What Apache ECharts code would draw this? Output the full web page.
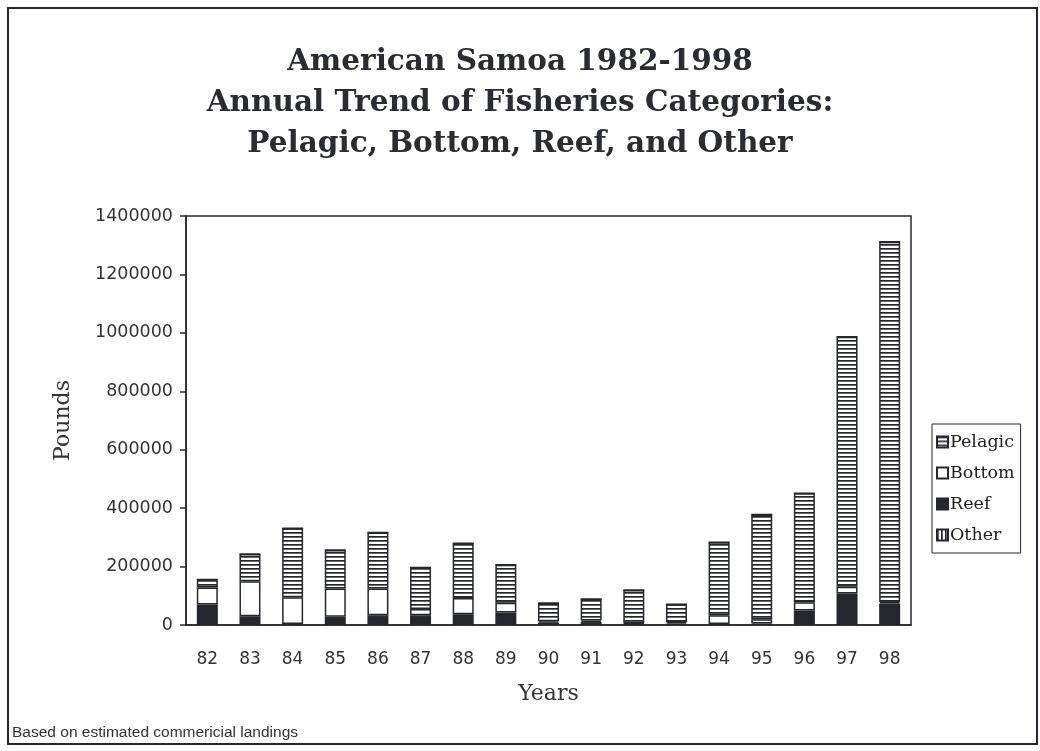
<!DOCTYPE html>
<html><head><meta charset="utf-8">
<script src="https://cdn.jsdelivr.net/npm/echarts@6/dist/echarts.min.js"></script>
<style>html,body{margin:0;padding:0;background:#fff}#c{width:1040px;height:751px}</style>
</head><body><div id="c"></div>
<script>
var years = ['82','83','84','85','86','87','88','89','90','91','92','93','94','95','96','97','98'];
var reef    = [70000,30000,3000,28000,33000,33000,37000,43000,8000,10000,3000,5000,3000,5000,50000,108000,74000];
var bottom  = [58000,120000,92000,97000,92000,22000,55000,33000,5000,5000,3000,5000,30000,15000,28000,23000,5000];
var pelagic = [28000,93000,236000,132000,192000,142000,188000,130000,62000,74000,114000,61000,250000,358000,373000,856000,1233000];
var other   = [0,0,0,0,0,0,0,0,0,0,0,0,0,0,0,0,0];
var yTicks = [0,200000,400000,600000,800000,1000000,1200000,1400000];

var INK = '#26262f';
function stripes(horizontal){
  var cv = document.createElement('canvas');
  cv.width = 4; cv.height = 4;
  var g = cv.getContext('2d');
  g.fillStyle = '#fff'; g.fillRect(0,0,4,4);
  g.fillStyle = INK;
  if (horizontal) g.fillRect(0,0,4,1.7); else g.fillRect(0,0,1.7,4);
  return {image: cv, repeat: 'repeat'};
}
var serif = '"DejaVu Serif", "Liberation Serif", serif';
var sans = '"DejaVu Sans", sans-serif';
var chart = echarts.init(document.getElementById('c'));
function bar(name, data, color){
  return {name:name, type:'bar', stack:'all', data:data, barWidth:21,
    itemStyle:{color:color, borderColor:INK, borderWidth:1.5}, emphasis:{disabled:true}};
}
chart.setOption({
  animation:false,
  title:{text:'American Samoa 1982-1998\nAnnual Trend of Fisheries Categories:\nPelagic, Bottom, Reef, and Other',
    left:'center', top:37,
    textStyle:{fontFamily:serif, fontWeight:'bold', fontSize:29.5, lineHeight:41, color:'#2b2b35'}},
  legend:{data:['Pelagic','Bottom','Reef','Other'], orient:'vertical', left:932, top:424,
    icon:'rect', itemWidth:11, itemHeight:11, itemGap:13, padding:[9,6,9,4],
    borderColor:INK, borderWidth:1, selectedMode:false,
    textStyle:{fontFamily:serif, fontSize:17.5, color:'#222', padding:[0,0,0,-3]}},
  grid:{left:186, right:129, top:216, bottom:126, show:true, borderColor:INK, borderWidth:1.5, backgroundColor:'transparent'},
  xAxis:{type:'category', data:years,
    axisLine:{lineStyle:{color:INK, width:1.5}}, axisTick:{show:false},
    axisLabel:{fontFamily:sans, fontSize:17, color:'#333', margin:26},
    name:'Years', nameLocation:'middle', nameGap:58,
    nameTextStyle:{fontFamily:serif, fontSize:22, color:'#333'}},
  yAxis:{type:'value', min:yTicks[0], max:yTicks[yTicks.length-1], interval:200000,
    axisLine:{show:true, lineStyle:{color:INK, width:1.5}},
    axisTick:{show:true, length:6, lineStyle:{color:INK, width:1.5}},
    splitLine:{show:false},
    axisLabel:{fontFamily:sans, fontSize:17.5, color:'#333', margin:13, formatter:function(v){return String(v);}},
    name:'Pounds', nameLocation:'middle', nameGap:112,
    nameTextStyle:{fontFamily:serif, fontSize:22, color:'#333'}},
  series:[
    bar('Reef', reef, INK),
    bar('Bottom', bottom, '#fff'),
    bar('Pelagic', pelagic, stripes(true)),
    bar('Other', other, stripes(false))
  ],
  graphic:[
    {type:'rect', shape:{x:8, y:8, width:1029, height:736}, style:{fill:'none', stroke:INK, lineWidth:2}, z:-1},
    {type:'text', left:12, top:725, style:{text:'Based on estimated commericial landings', fontFamily:'"Liberation Sans", Arial, sans-serif', fontSize:15.5, fill:'#333'}}
  ]
});
</script></body></html>
